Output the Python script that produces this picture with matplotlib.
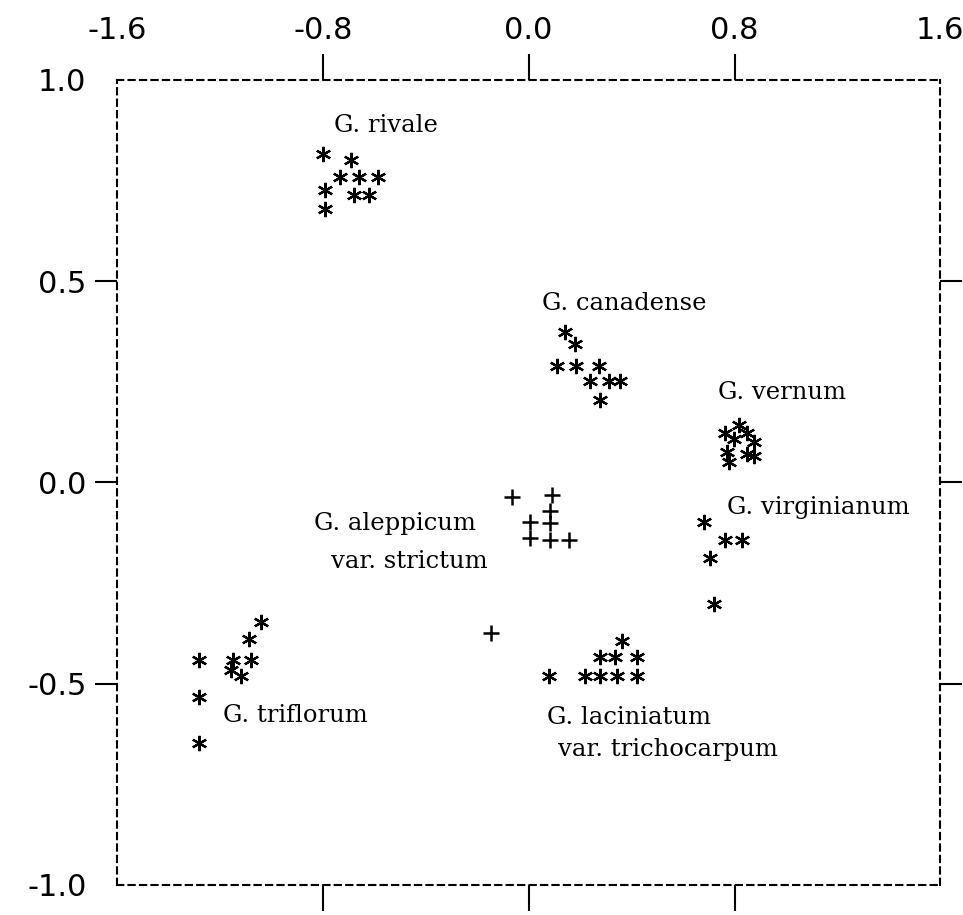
import matplotlib
matplotlib.use("Agg")
import matplotlib.pyplot as plt

# ordination scores
rivale_x = [-0.80, -0.69, -0.735, -0.66, -0.585, -0.79, -0.68, -0.62, -0.79]
rivale_y = [0.816, 0.80, 0.76, 0.76, 0.76, 0.726, 0.714, 0.714, 0.68]

canadense_x = [0.14, 0.18, 0.11, 0.183, 0.272, 0.237, 0.311, 0.354, 0.276]
canadense_y = [0.373, 0.343, 0.289, 0.289, 0.289, 0.251, 0.251, 0.251, 0.206]

vernum_x = [0.817, 0.763, 0.848, 0.798, 0.875, 0.77, 0.848, 0.875, 0.78]
vernum_y = [0.144, 0.124, 0.124, 0.107, 0.10, 0.075, 0.07, 0.065, 0.05]

virginianum_x = [0.68, 0.763, 0.829, 0.704, 0.72]
virginianum_y = [-0.097, -0.142, -0.142, -0.187, -0.303]

aleppicum_x = [-0.066, 0.09, 0.082, 0.004, 0.082, 0.004, 0.082, 0.156, -0.148]
aleppicum_y = [-0.035, -0.03, -0.072, -0.097, -0.10, -0.137, -0.142, -0.142, -0.373]

triflorum_x = [-1.039, -1.086, -1.28, -1.148, -1.078, -1.156, -1.117, -1.28, -1.28]
triflorum_y = [-0.346, -0.39, -0.44, -0.44, -0.44, -0.465, -0.482, -0.532, -0.647]

laciniatum_x = [0.078, 0.218, 0.276, 0.342, 0.42, 0.276, 0.335, 0.42, 0.362]
laciniatum_y = [-0.482, -0.482, -0.482, -0.482, -0.482, -0.433, -0.433, -0.433, -0.395]

# species labels: text, x, y
labels = [
    ("G. rivale", -0.755, 0.888),
    ("G. canadense", 0.05, 0.445),
    ("G. vernum", 0.735, 0.224),
    ("G. virginianum", 0.77, -0.062),
    ("G. aleppicum", -0.833, -0.102),
    ("var. strictum", -0.77, -0.197),
    ("G. triflorum", -1.187, -0.58),
    ("G. laciniatum", 0.07, -0.585),
    ("var. trichocarpum", 0.113, -0.664),
]

x_labels = [-1.6, -0.8, 0.0, 0.8, 1.6]
y_labels = [-1.0, -0.5, 0.0, 0.5, 1.0]
x_marks = [-0.8, 0.0, 0.8]
y_marks = [-0.5, 0.0, 0.5]

fig = plt.figure(figsize=(9.63, 9.15), dpi=100)
ax = fig.add_axes([0.1215, 0.0328, 0.855, 0.8798])

asterisk = (6, 2, 0)
star_style = dict(marker=asterisk, linestyle='none', color='black',
                  markersize=11, markeredgewidth=1.6)
for xs, ys in [(rivale_x, rivale_y), (canadense_x, canadense_y),
               (vernum_x, vernum_y), (virginianum_x, virginianum_y),
               (triflorum_x, triflorum_y), (laciniatum_x, laciniatum_y)]:
    ax.plot(xs, ys, **star_style)

ax.plot(aleppicum_x, aleppicum_y, marker='+', linestyle='none', color='black',
        markersize=11, markeredgewidth=1.8)

for txt, tx, ty in labels:
    ax.text(tx, ty, txt, family='DejaVu Serif', fontsize=17.5, va='center', ha='left')

ax.set_xlim(-1.6, 1.6)
ax.set_ylim(-1.0, 1.0)

for sp in ax.spines.values():
    sp.set_linestyle((0, (3, 2.5)))
    sp.set_linewidth(1.5)

# keep the short tick marks even where a labelled tick sits at the same value
ax.xaxis.remove_overlapping_locs = False
ax.yaxis.remove_overlapping_locs = False

ax.set_xticks(x_labels)
ax.set_xticklabels([f"{v:.1f}" for v in x_labels], fontsize=22)
ax.set_yticks(y_labels)
ax.set_yticklabels([f"{v:.1f}" for v in y_labels], fontsize=22)
ax.set_xticks(x_marks, minor=True)
ax.set_yticks(y_marks, minor=True)

ax.tick_params(axis='x', which='major', bottom=False, labelbottom=False,
               top=False, labeltop=True, length=0, pad=25)
ax.tick_params(axis='y', which='major', left=False, length=0, pad=22)
ax.tick_params(axis='x', which='minor', top=True, bottom=True, direction='out',
               length=19, width=1.5)
ax.tick_params(axis='y', which='minor', left=True, right=True, direction='out',
               length=16, width=1.5)

fig.savefig('out.png', dpi=100)
